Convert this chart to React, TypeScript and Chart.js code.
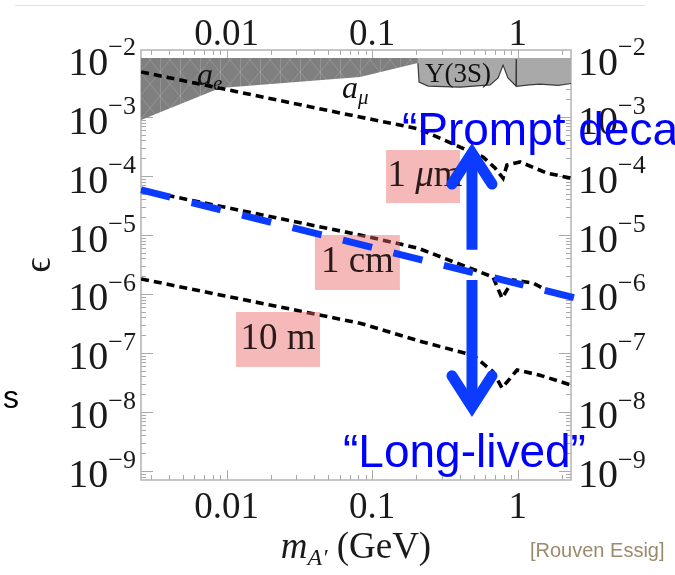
import React, { useEffect, useRef } from 'react';
import { Chart, registerables } from 'chart.js';

Chart.register(...registerables);

// ---------- axis ranges and ticks ----------
const MASS_RANGE = [0.002576, 2.324];
const EPS_RANGE = [7.03e-10, 0.01368];
const X_TICK_VALUES = [0.01, 0.1, 1];
const X_TICK_LABELS = ['0.01', '0.1', '1'];
const Y_TICK_EXPONENTS = [-2, -3, -4, -5, -6, -7, -8, -9];

// ---------- decay-length contours (m in GeV, epsilon) ----------
const MASS_1UM = [0.00258, 0.0824, 0.21, 0.402, 0.578, 0.698, 0.793, 0.843, 1.04, 1.59, 2.32];
const EPS_1UM = [5.8e-3, 1.0e-3, 6.27e-4, 3.1e-4, 2.1e-4, 1.37e-4, 9.2e-5, 1.53e-4, 1.73e-4, 1.12e-4, 9.2e-5];

const MASS_1CM = [0.00258, 0.0824, 0.206, 0.676, 0.78, 0.93, 1.28, 1.67, 2.32];
const EPS_1CM = [5.8e-5, 1.0e-5, 6.0e-6, 1.94e-6, 8.5e-7, 1.73e-6, 1.53e-6, 1.08e-6, 9.2e-7];

const MASS_10M = [0.00258, 0.0824, 0.223, 0.493, 0.676, 0.78, 0.99, 1.42, 2.32];
const EPS_10M = [1.8e-6, 3.2e-7, 1.53e-7, 9.2e-8, 4.8e-8, 2.55e-8, 5.15e-8, 4.2e-8, 2.87e-8];

// blue dividing line
const MASS_DIVIDE = [0.00258, 2.48];
const EPS_DIVIDE = [5.8e-5, 8.55e-7];

// ---------- excluded regions ----------
const MASS_EXCL_LEFT = [0.002576, 0.009, 0.0824, 0.206];
const EPS_EXCL_LEFT = [8.9e-4, 3.1e-3, 4.76e-3, 8.2e-3];
const MASS_EXCL_RIGHT = [0.206, 0.21, 0.242, 0.402, 0.646, 0.733, 0.793, 0.857, 0.973, 0.976, 0.98, 1.2, 1.42, 1.9, 2.324];
const EPS_EXCL_RIGHT = [8.2e-3, 3.9e-3, 3.35e-3, 3.2e-3, 3.5e-3, 4.6e-3, 7.6e-3, 4.6e-3, 3.35e-3, 9.6e-3, 3.3e-3, 3.5e-3, 3.6e-3, 3.45e-3, 3.7e-3];
const EXCL_TOP = 0.01;

// ---------- pink decay-length labels ----------
const BOX_LABELS = ['1 μm', '1 cm', '10 m'];
const BOX_MASS_LO = [0.1245, 0.0404, 0.01159];
const BOX_MASS_HI = [0.401, 0.155, 0.0438];
const BOX_EPS_HI = [2.76e-4, 1.0e-5, 4.96e-7];
const BOX_EPS_LO = [3.48e-5, 1.17e-6, 5.8e-8];

// ---------- arrows and texts (data coordinates) ----------
const ARROW_MASS = 0.485;
const ARROW_UP_EPS = [5.6e-6, 2.45e-4];
const ARROW_DOWN_EPS = [1.73e-6, 1.22e-8];
const PROMPT_TEXT = '“Prompt decay”';
const PROMPT_POS = [0.16, 3.35e-4];
const LONG_TEXT = '“Long-lived”';
const LONG_POS = [0.063, 1.17e-9];
const AE_POS = [0.00625, 3.48e-3];
const AMU_POS = [0.062, 2.1e-3];
const UPSILON_TEXT = 'Υ(3S)';
const UPSILON_POS = [0.389, 3.92e-3];

const SERIF = "'Liberation Serif', 'DejaVu Serif', serif";
const SANS = "'Liberation Sans', Arial, sans-serif";
const BLUE_LINE = '#0b3bff';
const BLUE_TEXT = '#0000ff';

const pts = (xs: number[], ys: number[]) => xs.map((x, i) => ({ x, y: ys[i] }));

type Run = { t: string; font: string; dy?: number };
function drawRuns(ctx: CanvasRenderingContext2D, runs: Run[], x: number, y: number, align: 'left' | 'center' | 'right' = 'left') {
  let total = 0;
  runs.forEach(r => { ctx.font = r.font; total += ctx.measureText(r.t).width; });
  let cx = align === 'left' ? x : align === 'center' ? x - total / 2 : x - total;
  ctx.textAlign = 'left';
  runs.forEach(r => {
    ctx.font = r.font;
    ctx.fillText(r.t, cx, y + (r.dy || 0));
    cx += ctx.measureText(r.t).width;
  });
}

const decorPlugin = {
  id: 'decor',
  beforeDatasetsDraw(chart: any) {
    const { ctx, chartArea } = chart;
    const { left, right, top, bottom } = chartArea;
    const xs = chart.scales.x;
    const ys = chart.scales.y;
    ctx.save();
    ctx.strokeStyle = '#a9a9a9';
    ctx.lineWidth = 1;
    ctx.beginPath();
    for (let d = -3; d <= 0; d++) {
      for (let k = 1; k <= 9; k++) {
        const v = k * Math.pow(10, d);
        if (v < MASS_RANGE[0] || v > MASS_RANGE[1]) continue;
        const px = Math.round(xs.getPixelForValue(v)) + 0.5;
        const len = k === 1 ? 10 : 5;
        ctx.moveTo(px, top); ctx.lineTo(px, top + len);
        ctx.moveTo(px, bottom); ctx.lineTo(px, bottom - len);
      }
    }
    for (let d = -10; d <= -1; d++) {
      for (let k = 1; k <= 9; k++) {
        const v = k * Math.pow(10, d);
        if (v < EPS_RANGE[0] || v > EPS_RANGE[1]) continue;
        const py = Math.round(ys.getPixelForValue(v)) + 0.5;
        const len = k === 1 ? 12 : 5;
        ctx.moveTo(left, py); ctx.lineTo(left + len, py);
        ctx.moveTo(right, py); ctx.lineTo(right - len, py);
      }
    }
    ctx.stroke();
    ctx.strokeStyle = '#b4b4b4';
    ctx.lineWidth = 1.5;
    ctx.strokeRect(left, top, right - left, bottom - top);
    ctx.restore();
  },
  beforeDatasetDraw(chart: any, args: any) {
    if (args.index !== 0) return;
    // pink label boxes: above black contours, below the blue line
    const { ctx } = chart;
    const xs = chart.scales.x;
    const ys = chart.scales.y;
    ctx.save();
    BOX_LABELS.forEach((label, i) => {
      const x0 = xs.getPixelForValue(BOX_MASS_LO[i]);
      const x1 = xs.getPixelForValue(BOX_MASS_HI[i]);
      const y0 = ys.getPixelForValue(BOX_EPS_HI[i]);
      const y1 = ys.getPixelForValue(BOX_EPS_LO[i]);
      ctx.fillStyle = 'rgba(236,100,100,0.45)';
      ctx.fillRect(x0, y0, x1 - x0, y1 - y0);
      ctx.fillStyle = '#2a1a1a';
      ctx.textBaseline = 'middle';
      const cx = (x0 + x1) / 2;
      const cy = (y0 + y1) / 2;
      if (label.indexOf('μ') >= 0) {
        drawRuns(ctx, [
          { t: '1 ', font: `37px ${SERIF}` },
          { t: 'μ', font: `italic 37px ${SERIF}` },
          { t: 'm', font: `37px ${SERIF}` },
        ], cx + 2, cy, 'center');
      } else {
        drawRuns(ctx, [{ t: label, font: `37px ${SERIF}` }], cx, cy, 'center');
      }
    });
    ctx.restore();
  },
  afterDatasetsDraw(chart: any) {
    const { ctx } = chart;
    const xs = chart.scales.x;
    const ys = chart.scales.y;
    const X = (v: number) => xs.getPixelForValue(v);
    const Y = (v: number) => ys.getPixelForValue(v);
    ctx.save();
    // in-plot labels
    ctx.fillStyle = '#111';
    ctx.textBaseline = 'alphabetic';
    drawRuns(ctx, [
      { t: 'a', font: `italic 32px ${SERIF}` },
      { t: 'e', font: `italic 21px ${SERIF}`, dy: 5 },
    ], X(AE_POS[0]), Y(AE_POS[1]));
    drawRuns(ctx, [
      { t: 'a', font: `italic 32px ${SERIF}` },
      { t: 'μ', font: `italic 21px ${SERIF}`, dy: 6 },
    ], X(AMU_POS[0]), Y(AMU_POS[1]));
    drawRuns(ctx, [{ t: UPSILON_TEXT, font: `27px ${SERIF}` }], X(UPSILON_POS[0]), Y(UPSILON_POS[1]), 'center');

    // arrows
    const ax = X(ARROW_MASS);
    const drawArrow = (yFrom: number, yTip: number) => {
      const dir = yTip < yFrom ? 1 : -1;
      ctx.strokeStyle = BLUE_LINE;
      ctx.lineWidth = 11;
      ctx.lineCap = 'butt';
      ctx.beginPath();
      ctx.moveTo(ax, yFrom);
      ctx.lineTo(ax, yTip + dir * 4);
      ctx.stroke();
      ctx.lineCap = 'round';
      ctx.lineJoin = 'miter';
      ctx.beginPath();
      ctx.moveTo(ax - 20, yTip + dir * 31);
      ctx.lineTo(ax, yTip);
      ctx.lineTo(ax + 20, yTip + dir * 31);
      ctx.stroke();
    };
    drawArrow(Y(ARROW_UP_EPS[0]), Y(ARROW_UP_EPS[1]));
    drawArrow(Y(ARROW_DOWN_EPS[0]), Y(ARROW_DOWN_EPS[1]));
    ctx.restore();
  },
  afterDraw(chart: any) {
    const { ctx, chartArea } = chart;
    const { left, right, top, bottom } = chartArea;
    const xs = chart.scales.x;
    const ys = chart.scales.y;
    ctx.save();
    ctx.fillStyle = '#1a1a1a';
    // x tick labels (top and bottom)
    ctx.font = `37px ${SERIF}`;
    ctx.textAlign = 'center';
    ctx.textBaseline = 'middle';
    X_TICK_VALUES.forEach((v, i) => {
      const px = xs.getPixelForValue(v);
      ctx.fillText(X_TICK_LABELS[i], px, top - 15);
      ctx.fillText(X_TICK_LABELS[i], px, bottom + 28);
    });
    // y tick labels (left and right)
    Y_TICK_EXPONENTS.forEach(e => {
      const py = ys.getPixelForValue(Math.pow(10, e));
      const sup = '−' + String(-e);
      ctx.textBaseline = 'middle';
      ctx.textAlign = 'left';
      ctx.font = `26px ${SERIF}`;
      const ws = ctx.measureText(sup).width;
      ctx.font = `40px ${SERIF}`;
      const wb = ctx.measureText('10').width;
      const lx = left - 5 - ws - wb;
      ctx.fillText('10', lx, py + 6);
      ctx.font = `26px ${SERIF}`;
      ctx.fillText(sup, lx + wb, py - 10);
      const rx = right + 7;
      ctx.font = `40px ${SERIF}`;
      ctx.fillText('10', rx, py + 6);
      ctx.font = `26px ${SERIF}`;
      ctx.fillText(sup, rx + wb, py - 10);
    });
    // y title
    ctx.save();
    ctx.translate(40, (top + bottom) / 2);
    ctx.rotate(-Math.PI / 2);
    ctx.textAlign = 'center';
    ctx.textBaseline = 'middle';
    ctx.font = `38px ${SERIF}`;
    ctx.fillText('ϵ', 0, 0);
    ctx.restore();
    // x title
    ctx.textBaseline = 'alphabetic';
    drawRuns(ctx, [
      { t: 'm', font: `italic 37px ${SERIF}` },
      { t: 'A′', font: `italic 24px ${SERIF}`, dy: 7 },
      { t: ' (GeV)', font: `37px ${SERIF}` },
    ], (left + right) / 2, 558, 'center');
    // credit
    ctx.fillStyle = '#9c8a6c';
    drawRuns(ctx, [{ t: '[Rouven Essig]', font: `20px ${SANS}` }], 530, 557);
    // stray slide text and frame line
    ctx.fillStyle = '#000';
    drawRuns(ctx, [{ t: 's', font: `32px ${SANS}` }], 3, 408);
    ctx.strokeStyle = '#e2e2e2';
    ctx.lineWidth = 1;
    ctx.beginPath();
    ctx.moveTo(15, 5.5);
    ctx.lineTo(645, 5.5);
    ctx.stroke();
    // blue annotations
    ctx.fillStyle = BLUE_TEXT;
    drawRuns(ctx, [{ t: PROMPT_TEXT, font: `46px ${SANS}` }], xs.getPixelForValue(PROMPT_POS[0]), ys.getPixelForValue(PROMPT_POS[1]));
    drawRuns(ctx, [{ t: LONG_TEXT, font: `46px ${SANS}` }], xs.getPixelForValue(LONG_POS[0]), ys.getPixelForValue(LONG_POS[1]));
    ctx.restore();
  },
};

export default function App() {
  const ref = useRef<HTMLCanvasElement>(null);
  useEffect(() => {
    const canvas = ref.current!;
    const pc = document.createElement('canvas');
    pc.width = 20;
    pc.height = 24;
    const p = pc.getContext('2d')!;
    p.fillStyle = '#7f7f7f';
    p.fillRect(0, 0, 20, 24);
    p.strokeStyle = 'rgba(255,255,255,0.16)';
    p.lineWidth = 1;
    p.beginPath();
    p.moveTo(0, 0); p.lineTo(20, 24);
    p.moveTo(20, 0); p.lineTo(0, 24);
    p.moveTo(0.5, 0); p.lineTo(0.5, 24);
    p.stroke();
    const pattern = canvas.getContext('2d')!.createPattern(pc, 'repeat');

    const blackLine = (xs: number[], ys: number[]) => ({
      data: pts(xs, ys),
      borderColor: '#000',
      borderWidth: 3.6,
      borderDash: [8, 5],
      pointRadius: 0,
      fill: false,
      tension: 0,
      order: 1,
    });

    const chart = new Chart(canvas, {
      type: 'line',
      data: {
        datasets: [
          {
            data: pts(MASS_DIVIDE, EPS_DIVIDE),
            borderColor: BLUE_LINE,
            borderWidth: 7,
            borderDash: [30, 22],
            pointRadius: 0,
            fill: false,
            clip: false,
            order: 0,
          } as any,
          blackLine(MASS_1UM, EPS_1UM),
          blackLine(MASS_1CM, EPS_1CM),
          blackLine(MASS_10M, EPS_10M),
          {
            data: pts(MASS_EXCL_LEFT, EPS_EXCL_LEFT),
            borderColor: 'rgba(0,0,0,0)',
            borderWidth: 0,
            backgroundColor: pattern || '#7f7f7f',
            fill: { value: EXCL_TOP },
            pointRadius: 0,
            order: 2,
          } as any,
          {
            data: pts(MASS_EXCL_RIGHT, EPS_EXCL_RIGHT),
            borderColor: '#3a3a3a',
            borderWidth: 1.2,
            backgroundColor: '#a9a9a9',
            fill: { value: EXCL_TOP },
            pointRadius: 0,
            order: 2,
          } as any,
        ],
      },
      options: {
        responsive: false,
        animation: false,
        devicePixelRatio: 1,
        layout: { padding: { left: 141, right: 104, top: 50, bottom: 95 } },
        plugins: { legend: { display: false }, tooltip: { enabled: false } },
        scales: {
          x: { type: 'logarithmic', display: false, min: MASS_RANGE[0], max: MASS_RANGE[1], bounds: 'data' },
          y: { type: 'logarithmic', display: false, min: EPS_RANGE[0], max: EPS_RANGE[1], bounds: 'data' },
        },
      },
      plugins: [decorPlugin],
    } as any);
    return () => chart.destroy();
  }, []);
  return (
    <div style={{ position: 'absolute', left: 0, top: 0, width: 675, height: 575, background: '#fff' }}>
      <canvas ref={ref} width={675} height={575} style={{ display: 'block' }} />
    </div>
  );
}
